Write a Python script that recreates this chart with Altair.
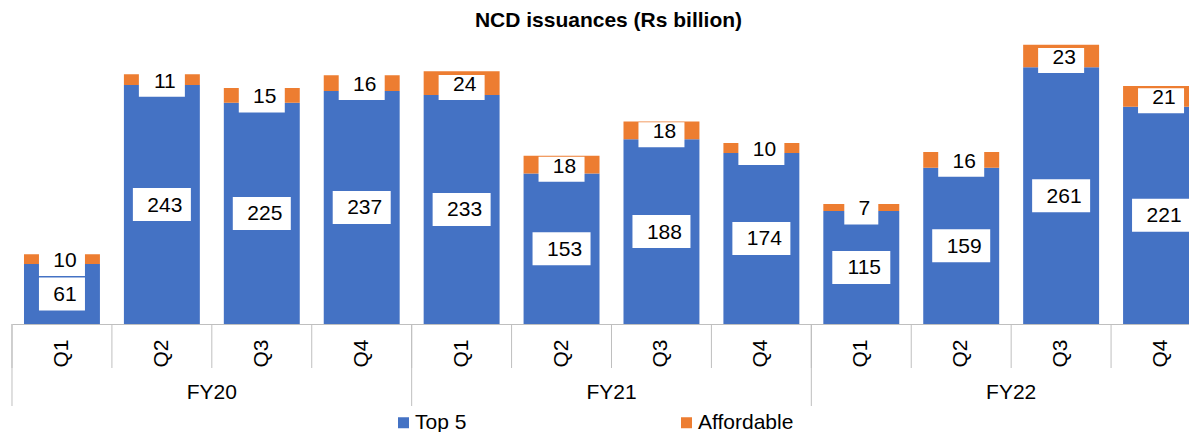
import altair as alt
import pandas as pd

FONT = "Liberation Sans"

fiscal_years = ["FY20", "FY21", "FY22"]
quarters = ["Q1", "Q2", "Q3", "Q4"]
top5 = [61, 243, 225, 237, 233, 153, 188, 174, 115, 159, 261, 221]
affordable = [10, 11, 15, 16, 24, 18, 18, 10, 7, 16, 23, 21]
series_names = ["Top 5", "Affordable"]
colors = ["#4472C4", "#ED7D31"]

keys = [f"{fy} {q}" for fy in fiscal_years for q in quarters]
rows = []
for i, k in enumerate(keys):
    fy, q = k.split()
    t, a = top5[i], affordable[i]
    rows.append(dict(key=k, fy=fy, q=q, series="Top 5", start=0, end=t, mid=t / 2, label=str(t)))
    rows.append(dict(key=k, fy=fy, q=q, series="Affordable", start=t, end=t + a, mid=t + a / 2, label=str(a)))
df = pd.DataFrame(rows)

GRID = "#BFBFBF"
xscale = alt.Scale(domain=keys, range=[0, 1199], paddingInner=0.24, paddingOuter=0.12)
yscale = alt.Scale(domain=[0, 300])

xaxis = alt.Axis(
    title=None, labelAngle=270, labelFontSize=21, labelFont=FONT, labelColor="black",
    labelPadding=15, ticks=False, domainColor=GRID,
    labelExpr="datum.value ? slice(datum.value, 5) : ''", labelOverlap=False, grid=False,
)
X = alt.X("key:N", scale=xscale, sort=keys, axis=xaxis)
Xedge = alt.X("key:N", scale=xscale, sort=keys, axis=xaxis, bandPosition=0)
Y = alt.Y("end:Q", scale=yscale, axis=None)

base = alt.Chart(df)

bars = base.mark_bar().encode(
    x=X,
    y=Y,
    y2="start:Q",
    color=alt.Color(
        "series:N",
        scale=alt.Scale(domain=series_names, range=colors),
        legend=alt.Legend(
            title=None, orient="none", legendX=381, legendY=383, direction="horizontal",
            symbolType="square", symbolSize=121, symbolStrokeWidth=0, labelFontSize=21,
            labelFont=FONT, labelColor="black", columnPadding=209, padding=0, labelOffset=1,
        ),
    ),
)


def box(filt, w, top, bottom):
    return base.transform_filter(filt).mark_bar(
        width=w, color="white", yOffset=top, y2Offset=bottom
    ).encode(x=X, y=alt.Y("mid:Q", scale=yscale, axis=None), y2="mid:Q")


t5 = "datum.series == 'Top 5'"
af = "datum.series == 'Affordable'"
boxes = [
    box(f"{t5} && length(datum.label) == 3", 58, -16.5, 16.5),
    box(f"{t5} && length(datum.label) == 2", 46, -16.5, 16.5),
    box(f"{af} && length(datum.label) == 2", 46, -8, 17),
    box(f"{af} && length(datum.label) == 1", 34, -8, 17),
]

t5_text = base.transform_filter(t5).mark_text(
    fontSize=21, font=FONT, color="black", dx=3, dy=1
).encode(x=X, y=alt.Y("mid:Q", scale=yscale, axis=None), text="label:N")
af_text = base.transform_filter(af).mark_text(
    fontSize=21, font=FONT, color="black", dx=3, dy=2
).encode(x=X, y=alt.Y("mid:Q", scale=yscale, axis=None), text="label:N")

q_rules = base.transform_filter(t5).mark_rule(
    color=GRID, xOffset=-12
).encode(x=Xedge, y=alt.value(295), y2=alt.value(339))

fy_rules = base.transform_filter(f"{t5} && datum.q == 'Q1'").mark_rule(
    color=GRID, xOffset=-12
).encode(x=Xedge, y=alt.value(295), y2=alt.value(377))

fy_text = base.transform_filter(f"{t5} && datum.q == 'Q3'").mark_text(
    fontSize=21, font=FONT, color="black", xOffset=-12
).encode(x=Xedge, y=alt.value(364), text="fy:N")

chart = alt.layer(bars, *boxes, t5_text, af_text, q_rules, fy_rules, fy_text).properties(
    width=1177,
    height=295,
    title=alt.TitleParams(
        "NCD issuances (Rs billion)", fontSize=21, fontWeight="bold", font=FONT,
        color="black", anchor="middle", dx=8, dy=18, baseline="middle", offset=5,
    ),
    autosize=alt.AutoSizeParams(type="none"),
    padding={"left": 4, "right": 0, "top": 21, "bottom": 108},
).configure_view(stroke=None)

chart.save("out.html", embed_options={"renderer": "svg", "actions": False})
